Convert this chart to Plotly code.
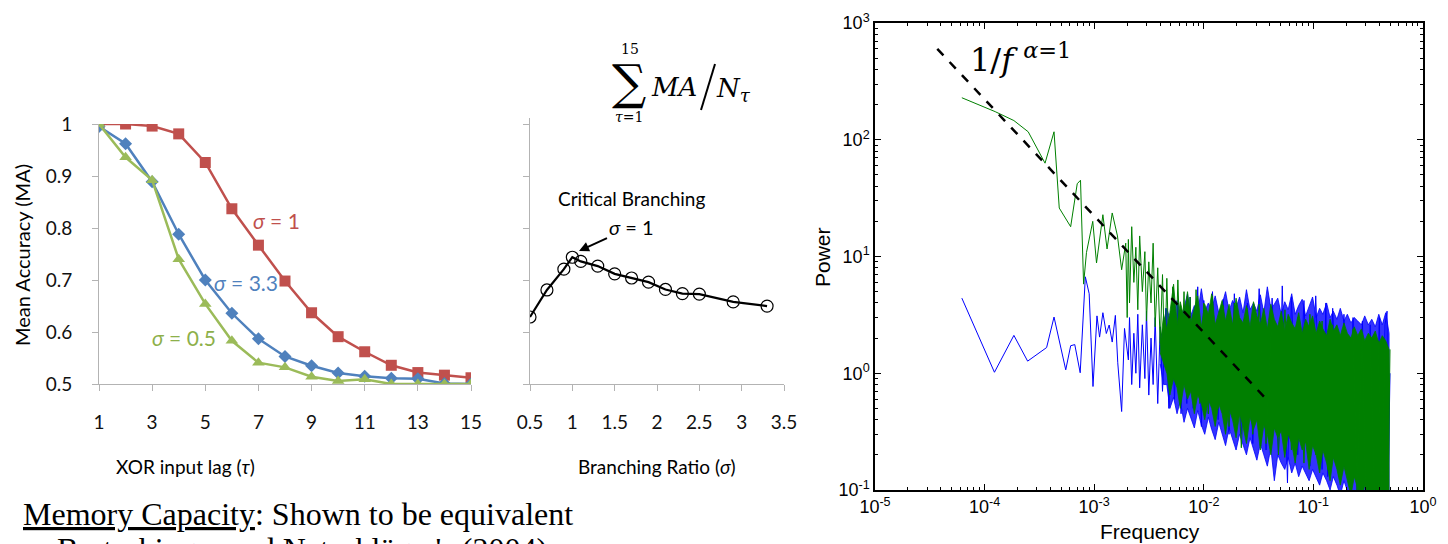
import plotly.graph_objects as go

W, H = 1448, 544


def px(x):
    return x / W


def py(y):
    return 1 - y / H


# ---------------- data: left panel (XOR task) ----------------
lag = list(range(1, 16))
ma_sigma1 = [1.0, 1.0, 0.996, 0.981, 0.926, 0.837, 0.767, 0.698, 0.637, 0.591, 0.562, 0.536, 0.522, 0.517, 0.512]
ma_sigma33 = [0.995, 0.962, 0.889, 0.788, 0.700, 0.636, 0.587, 0.553, 0.535, 0.521, 0.515, 0.511, 0.510, 0.501, 0.500]
ma_sigma05 = [1.0, 0.936, 0.892, 0.740, 0.654, 0.583, 0.541, 0.532, 0.514, 0.506, 0.509, 0.500, 0.500, 0.500, 0.500]
lag_ticks = [1, 3, 5, 7, 9, 11, 13, 15]
ma_ticks = [0.5, 0.6, 0.7, 0.8, 0.9, 1.0]
ma_ticktext = ["0.5", "0.6", "0.7", "0.8", "0.9", "1"]

# ---------------- data: middle panel ----------------
branching_ratio = [0.5, 0.7, 0.9, 1.0, 1.1, 1.3, 1.5, 1.7, 1.9, 2.1, 2.3, 2.5, 2.9, 3.3]
mean_ma = [0.629, 0.681, 0.721, 0.744, 0.736, 0.727, 0.712, 0.704, 0.696, 0.682, 0.674, 0.673, 0.658, 0.650]
br_ticks = [0.5, 1.0, 1.5, 2.0, 2.5, 3.0, 3.5]
br_ticktext = ["0.5", "1", "1.5", "2", "2.5", "3", "3.5"]

# ---------------- data: right panel (power spectra) ----------------
blue_freq = [6.2e-5, 1.23e-4, 1.85e-4, 2.47e-4, 3.68e-4, 4.3e-4, 5.5e-4, 6.1e-4, 6.65e-4, 7.45e-4,
             8.3e-4, 9.0e-4, 9.75e-4, 1.06e-3, 1.12e-3, 1.2e-3, 1.29e-3, 1.37e-3, 1.46e-3, 1.56e-3,
             1.64e-3, 1.78e-3, 1.89e-3, 1.98e-3,
             2.05e-3, 2.1e-3, 2.2e-3, 2.3e-3, 2.4e-3, 2.5e-3, 2.6e-3, 2.75e-3, 2.9e-3, 3.0e-3,
             3.15e-3, 3.3e-3, 3.45e-3, 3.6e-3, 3.8e-3, 4.0e-3, 4.2e-3, 4.5e-3, 4.8e-3, 5.1e-3,
             5.4e-3, 5.8e-3, 6.2e-3, 6.6e-3, 7.0e-3, 7.5e-3, 8.0e-3, 8.8e-3, 9.5e-3, 1.0e-2,
             1.1e-2, 1.2e-2, 1.35e-2, 1.5e-2, 1.7e-2, 1.9e-2, 2.2e-2, 2.5e-2, 2.8e-2, 3.2e-2,
             3.7e-2, 4.2e-2, 4.8e-2, 5.2e-2, 5.8e-2, 6.3e-2, 7.2e-2, 8.2e-2, 9.3e-2, 0.105,
             0.12, 0.13, 0.135, 0.15, 0.17, 0.19, 0.21, 0.23, 0.25, 0.28,
             0.3, 0.33, 0.36, 0.4, 0.42, 0.45, 0.47, 0.48, 0.5]
blue_power = [4.4, 1.02, 2.11, 1.27, 1.66, 3.03, 1.07, 1.72, 1.76, 1.01,
              6.7, 4.8, 0.77, 3.1, 2.04, 3.3, 2.19, 2.59, 1.85, 3.13,
              1.23, 0.47, 2.42, 1.72,
              1.3, 3.0, 0.8, 2.2, 1.0, 3.2, 0.75, 2.6, 0.9, 3.4,
              0.65, 2.0, 0.8, 3.0, 0.55, 2.5, 0.7, 3.6, 0.5, 3.0,
              0.6, 4.0, 0.45, 3.5, 0.55, 4.5, 0.5, 5.5, 0.35, 4.2,
              0.45, 5.0, 0.4, 4.3, 0.3, 4.8, 0.3, 4.0, 0.25, 5.3,
              0.22, 4.4, 0.2, 5.6, 0.115, 4.5, 0.2, 4.2, 0.16, 4.6,
              0.15, 4.0, 0.13, 3.6, 0.14, 3.2, 0.12, 3.0, 0.1, 2.8,
              0.09, 2.6, 0.1, 3.0, 0.09, 2.6, 3.4, 0.1, 1.0]

green_freq = [6.2e-5, 1.25e-4, 1.85e-4, 2.5e-4, 3.56e-4, 4.3e-4, 4.8e-4, 6.1e-4, 7.0e-4, 7.5e-4,
              8.0e-4, 8.5e-4, 9.7e-4, 1.05e-3, 1.2e-3, 1.31e-3, 1.46e-3, 1.63e-3, 1.78e-3, 1.94e-3,
              2.0e-3,
              2.05e-3, 2.1e-3, 2.2e-3, 2.3e-3, 2.4e-3, 2.5e-3, 2.6e-3, 2.75e-3, 2.9e-3, 3.0e-3,
              3.15e-3, 3.3e-3, 3.45e-3, 3.6e-3, 3.8e-3, 4.0e-3, 4.2e-3, 4.4e-3, 4.6e-3, 4.9e-3,
              5.2e-3, 5.5e-3, 5.8e-3, 6.2e-3, 6.6e-3, 7.0e-3, 7.5e-3, 8.0e-3, 8.5e-3, 9.2e-3,
              1.0e-2, 1.1e-2, 1.2e-2, 1.35e-2, 1.5e-2, 1.7e-2, 1.9e-2, 2.2e-2, 2.5e-2, 2.8e-2,
              3.2e-2, 3.7e-2, 4.2e-2, 4.8e-2, 5.5e-2, 6.3e-2, 7.2e-2, 8.2e-2, 9.3e-2, 0.105,
              0.12, 0.135, 0.15, 0.17, 0.19, 0.21, 0.23, 0.25, 0.28, 0.3,
              0.33, 0.36, 0.39, 0.42, 0.45, 0.48, 0.5]
green_power = [229, 174, 146, 117, 63, 117, 26, 18, 42, 45,
               5.8, 10.8, 20, 8.8, 22.8, 11.6, 23.6, 15, 7.7, 13,
               3.0,
               14, 4, 18, 6, 12, 3.5, 15, 5, 11, 2.8,
               9, 4, 13, 2.5, 8, 1.8, 7, 1.2, 6.5, 0.7,
               5.5, 1.0, 6.3, 0.9, 5.0, 0.75, 4.5, 0.6, 5.2, 0.55,
               4.0, 0.45, 4.6, 0.5, 3.8, 0.35, 4.0, 0.23, 3.6, 0.3,
               3.9, 0.25, 3.4, 0.2, 3.5, 0.22, 3.0, 0.17, 3.2, 0.2,
               2.8, 0.15, 2.6, 0.13, 2.5, 0.12, 2.4, 0.1, 2.2, 0.09,
               2.0, 0.09, 1.9, 0.09, 1.8, 0.1, 1.6]

# ragged envelopes of the dense (solid-looking) part of both spectra
dense_freq = [4.0e-3, 4.3e-3, 4.6e-3, 4.9e-3, 5.3e-3, 5.7e-3, 6.1e-3, 6.6e-3, 7.1e-3, 7.6e-3,
              8.2e-3, 8.8e-3, 9.5e-3, 1.02e-2, 1.1e-2, 1.18e-2, 1.27e-2, 1.37e-2, 1.47e-2, 1.58e-2,
              1.7e-2, 1.83e-2, 1.97e-2, 2.12e-2, 2.28e-2, 2.45e-2, 2.64e-2, 2.84e-2, 3.05e-2, 3.28e-2,
              3.53e-2, 3.8e-2, 4.09e-2, 4.4e-2, 4.73e-2, 5.09e-2, 5.48e-2, 5.89e-2, 6.34e-2, 6.82e-2,
              7.34e-2, 7.9e-2, 8.5e-2, 9.14e-2, 9.83e-2, 0.106, 0.114, 0.122, 0.132, 0.142,
              0.152, 0.164, 0.176, 0.19, 0.204, 0.22, 0.236, 0.254, 0.274, 0.294,
              0.317, 0.341, 0.367, 0.395, 0.425, 0.457, 0.49]
green_dense_hi = [1.7, 3.2, 2.4, 3.3, 5.8, 2.6, 4.1, 3.0, 5.0, 2.7, 3.6, 4.6, 2.5, 3.9, 3.2, 4.8, 2.6, 3.4, 4.2, 2.8,
                  3.9, 2.6, 4.4, 3.0, 2.7, 3.8, 2.5, 4.1, 3.1, 2.6, 3.6, 2.4, 3.9, 2.9, 2.5, 3.4, 2.3, 3.2, 2.7, 2.4,
                  3.3, 2.2, 2.9, 2.5, 3.1, 2.2, 2.8, 2.4, 2.1, 2.9, 2.3, 2.6, 2.1, 2.7, 2.2, 2.0, 2.5, 2.1, 2.4, 1.9,
                  2.2, 2.0, 2.3, 1.8, 2.1, 1.9, 1.6]
green_dense_lo = [1.5, 1.2, 1.0, 0.65, 0.9, 0.75, 0.5, 0.8, 0.6, 0.7, 0.45, 0.65, 0.55, 0.4, 0.6, 0.5, 0.35, 0.55, 0.45, 0.3,
                  0.5, 0.4, 0.28, 0.45, 0.35, 0.25, 0.42, 0.33, 0.4, 0.22, 0.36, 0.3, 0.2, 0.34, 0.28, 0.32, 0.19, 0.3, 0.25, 0.17,
                  0.28, 0.22, 0.26, 0.15, 0.24, 0.2, 0.14, 0.22, 0.17, 0.12, 0.19, 0.15, 0.11, 0.16, 0.12, 0.09, 0.13, 0.1, 0.08, 0.11,
                  0.09, 0.07, 0.09, 0.07, 0.08, 0.07, 0.07]
blue_dense_hi = [2.0, 2.4, 3.6, 2.9, 3.1, 4.2, 3.0, 3.6, 4.8, 3.1, 3.8, 3.3, 5.3, 3.4, 4.0, 3.5, 4.6, 3.3, 3.9, 5.0,
                 3.4, 4.2, 3.6, 4.5, 3.3, 5.2, 3.5, 4.0, 3.4, 4.7, 3.3, 5.5, 3.6, 3.9, 4.4, 3.2, 4.1, 3.5, 4.8, 3.2,
                 3.8, 4.3, 3.1, 3.7, 4.5, 3.0, 3.6, 3.2, 4.0, 3.0, 3.4, 2.9, 3.6, 2.8, 3.2, 2.7, 3.0, 2.8, 2.6, 3.1,
                 2.6, 2.9, 2.5, 3.2, 2.6, 3.3, 2.2]
blue_dense_lo = [1.2, 0.8, 0.8, 0.5, 0.62, 0.45, 0.58, 0.38, 0.5, 0.42, 0.34, 0.48, 0.36, 0.3, 0.42, 0.33, 0.27, 0.38, 0.3, 0.24,
                 0.34, 0.27, 0.22, 0.3, 0.25, 0.2, 0.28, 0.22, 0.18, 0.25, 0.2, 0.16, 0.23, 0.12, 0.2, 0.17, 0.15, 0.19, 0.14, 0.17,
                 0.13, 0.16, 0.14, 0.12, 0.15, 0.13, 0.11, 0.14, 0.12, 0.1, 0.13, 0.11, 0.09, 0.12, 0.1, 0.08, 0.1, 0.09, 0.08, 0.09,
                 0.08, 0.07, 0.08, 0.07, 0.07, 0.07, 0.07]

fit_freq = [3.7e-5, 3.6e-2]
fit_power = [600, 0.62]

freq_ticks = [1e-5, 1e-4, 1e-3, 1e-2, 1e-1, 1]
freq_ticktext = ["10<sup>-5</sup>", "10<sup>-4</sup>", "10<sup>-3</sup>", "10<sup>-2</sup>", "10<sup>-1</sup>", "10<sup>0</sup>"]
pow_ticks = [0.1, 1, 10, 100, 1000]
pow_ticktext = ["10<sup>-1</sup>", "10<sup>0</sup>", "10<sup>1</sup>", "10<sup>2</sup>", "10<sup>3</sup>"]
# minor (unlabelled) log tick positions: 2..9 in each decade
freq_minor = [m * 10.0 ** e for e in range(-5, 0) for m in range(2, 10)]
pow_minor = [m * 10.0 ** e for e in range(-1, 3) for m in range(2, 10)]

RED = "#C0504D"
BLUE = "#4F81BD"
GREEN = "#9BBB59"
XLFONT = "Lato, Open Sans, sans-serif"
MLFONT = "Liberation Sans, Arial, sans-serif"
SERIF = "DejaVu Serif, Liberation Serif, serif"
AXGRAY = "#B3B3B3"

fig = go.Figure()

# left panel
fig.add_trace(go.Scatter(x=lag, y=ma_sigma1, mode="lines+markers", xaxis="x", yaxis="y",
                         line=dict(color=RED, width=2.5),
                         marker=dict(symbol="square", size=11, color=RED)))
fig.add_trace(go.Scatter(x=lag, y=ma_sigma33, mode="lines+markers", xaxis="x", yaxis="y",
                         line=dict(color=BLUE, width=2.5),
                         marker=dict(symbol="diamond", size=10, color=BLUE)))
fig.add_trace(go.Scatter(x=lag, y=ma_sigma05, mode="lines+markers", xaxis="x", yaxis="y",
                         line=dict(color=GREEN, width=2.5),
                         marker=dict(symbol="triangle-up", size=11, color=GREEN)))

# middle panel
fig.add_trace(go.Scatter(x=branching_ratio, y=mean_ma, mode="lines+markers", xaxis="x2", yaxis="y2",
                         line=dict(color="black", width=2.2),
                         marker=dict(symbol="circle-open", size=12, color="black", line=dict(width=1.2))))

# right panel: blue spectrum
fig.add_trace(go.Scatter(x=dense_freq + dense_freq[::-1], y=blue_dense_hi + blue_dense_lo[::-1],
                         mode="lines", fill="toself", xaxis="x3", yaxis="y3",
                         fillcolor="rgba(0,0,255,0.8)", line=dict(width=0.8, color="#0000FF")))
fig.add_trace(go.Scatter(x=blue_freq, y=blue_power, mode="lines", xaxis="x3", yaxis="y3",
                         line=dict(color="#0000FF", width=1)))
# right panel: green spectrum
fig.add_trace(go.Scatter(x=dense_freq + dense_freq[::-1], y=green_dense_hi + green_dense_lo[::-1],
                         mode="lines", fill="toself", xaxis="x3", yaxis="y3",
                         fillcolor="#007F00", line=dict(width=0.8, color="#007F00")))
fig.add_trace(go.Scatter(x=green_freq, y=green_power, mode="lines", xaxis="x3", yaxis="y3",
                         line=dict(color="#008000", width=1)))
fig.add_trace(go.Scatter(x=fit_freq, y=fit_power, mode="lines", xaxis="x3", yaxis="y3",
                         line=dict(color="black", width=2.5, dash="dash")))

common_left = dict(showgrid=False, zeroline=False, showline=True, linecolor=AXGRAY, linewidth=1,
                   ticks="outside", tickcolor=AXGRAY, ticklen=6, automargin=False,
                   tickfont=dict(family=XLFONT, size=19, color="#111"))
common_log = dict(showgrid=False, zeroline=False, showline=True, linecolor="black", linewidth=1.5,
                  mirror="allticks", ticks="inside", ticklen=6, tickcolor="black", automargin=False,
                  tickfont=dict(family=MLFONT, size=18, color="black"))

fig.update_layout(
    width=W, height=H, margin=dict(l=0, r=0, t=0, b=0, autoexpand=False),
    paper_bgcolor="white", plot_bgcolor="rgba(0,0,0,0)", showlegend=False,
    xaxis=dict(domain=[px(99), px(471)], range=[1, 15], tickvals=lag_ticks, anchor="y",
               ticklabelstandoff=15, **common_left),
    yaxis=dict(domain=[py(384), py(124)], range=[0.5, 1.0], tickvals=ma_ticks, ticktext=ma_ticktext,
               anchor="x", ticklabelstandoff=16, **common_left),
    xaxis2=dict(domain=[px(530), px(784)], range=[0.5, 3.5], tickvals=br_ticks, ticktext=br_ticktext,
                anchor="y2", ticklabelstandoff=15, **common_left),
    yaxis2=dict(domain=[py(384), py(118)], range=[0.5, 1.012], tickvals=ma_ticks, showticklabels=False,
                anchor="x2", **common_left),
    xaxis3=dict(domain=[px(875), px(1423)], type="log", range=[-5, 0], anchor="y3",
                tickvals=freq_ticks, ticktext=freq_ticktext,
                minor=dict(tickmode="array", tickvals=freq_minor, ticks="inside", ticklen=3,
                           tickcolor="black", showgrid=False),
                **common_log),
    yaxis3=dict(domain=[py(490), py(23)], type="log", range=[-1, 3], anchor="x3",
                tickvals=pow_ticks, ticktext=pow_ticktext,
                minor=dict(tickmode="array", tickvals=pow_minor, ticks="inside", ticklen=3,
                           tickcolor="black", showgrid=False),
                **common_log),
)

ann = []


def add_text(text, x, y, size, color="black", family=XLFONT, xanchor="center", yanchor="middle", angle=0):
    ann.append(dict(text=text, x=px(x), y=py(y), xref="paper", yref="paper", showarrow=False,
                    xanchor=xanchor, yanchor=yanchor, textangle=angle,
                    font=dict(family=family, size=size, color=color)))


# left panel labels
add_text("<i>σ</i> = 1", 276, 220, 21, RED)
add_text("<i>σ</i> = 3.3", 246, 282, 21, BLUE)
add_text("<i>σ</i> = 0.5", 184, 337, 21, "#8DB04A")
add_text("Mean Accuracy (MA)", 22, 255, 20, angle=-90)
add_text("XOR input lag (<i>τ</i>)", 185, 466, 19)
add_text("Branching Ratio (<i>σ</i>)", 657, 466, 19)

# middle panel labels
add_text("Critical Branching", 631, 199, 19)
ann.append(dict(text="<i>σ</i> = 1", x=px(579), y=py(251), xref="paper", yref="paper",
                ax=52, ay=-24, axref="pixel", ayref="pixel", showarrow=True,
                arrowhead=2, arrowsize=1, arrowwidth=2, arrowcolor="black",
                font=dict(family=XLFONT, size=20, color="black")))

# summation formula
add_text("∑", 629, 82, 48, family=SERIF)
add_text("15", 630, 49, 14, family=SERIF)
add_text("<i>τ</i>=1", 629, 117, 14, family=SERIF)
add_text("<i>MA</i>", 674, 87, 26, family=SERIF)
add_text("<i>N</i><sub><i>τ</i></sub>", 733, 90, 26, family=SERIF)

# right panel labels
add_text("1/<i>f</i> <sup><i>α</i>=1</sup>", 968, 58, 32, family=SERIF, xanchor="left")
add_text("Power", 822, 257, 21, family=MLFONT, angle=-90)
add_text("Frequency", 1150, 531, 21, family=MLFONT)

# bottom text
add_text("<u>Memory Capacity</u>: Shown to be equivalent", 21, 514, 32,
         family="Liberation Serif, Times New Roman, serif", xanchor="left")
add_text("Bertschinger and Natschläger's (2004)", 55, 549, 32,
         family="Liberation Serif, Times New Roman, serif", xanchor="left")

fig.update_layout(annotations=ann)

# slash of the formula
fig.add_shape(type="line", xref="paper", yref="paper", x0=px(701), y0=py(110), x1=px(715), y1=py(64),
              line=dict(color="black", width=2))

fig.write_html("out.html", config={"displayModeBar": False},
               post_script="document.body.style.margin='0';document.body.style.overflow='hidden';")
